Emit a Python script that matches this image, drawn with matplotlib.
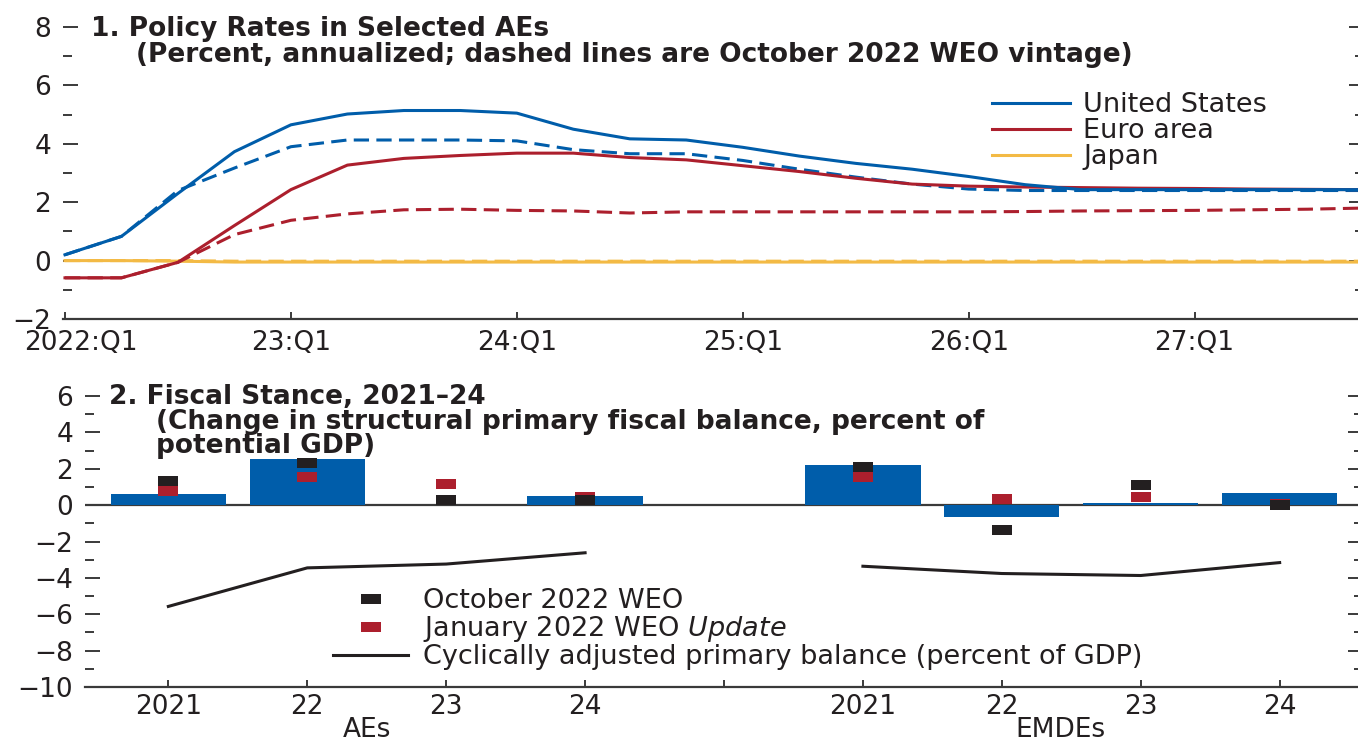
import matplotlib
matplotlib.use("Agg")
import matplotlib.pyplot as plt
import matplotlib.transforms as mtransforms
from matplotlib.lines import Line2D
from matplotlib.ticker import FixedLocator, MultipleLocator

# ---------------- data ----------------
quarter_ticks = ["2022:Q1", "23:Q1", "24:Q1", "25:Q1", "26:Q1", "27:Q1"]

us_current = [0.2, 0.83, 2.3, 3.73, 4.65, 5.02, 5.14, 5.14, 5.05, 4.5, 4.17, 4.13,
              3.88, 3.58, 3.33, 3.13, 2.88, 2.6, 2.43, 2.43, 2.43, 2.43, 2.43, 2.43]
us_oct22 = [0.2, 0.83, 2.4, 3.17, 3.9, 4.13, 4.13, 4.13, 4.1, 3.8, 3.66, 3.66,
            3.43, 3.13, 2.86, 2.62, 2.45, 2.4, 2.4, 2.4, 2.4, 2.4, 2.4, 2.4]
ea_current = [-0.59, -0.59, -0.06, 1.2, 2.43, 3.27, 3.5, 3.6, 3.68, 3.68, 3.53, 3.45,
              3.25, 3.05, 2.82, 2.62, 2.55, 2.52, 2.5, 2.48, 2.47, 2.45, 2.44, 2.43]
ea_oct22 = [-0.59, -0.59, -0.06, 0.89, 1.38, 1.6, 1.74, 1.76, 1.72, 1.7, 1.63, 1.67,
            1.67, 1.67, 1.67, 1.67, 1.67, 1.68, 1.7, 1.71, 1.72, 1.74, 1.76, 1.8]
jp_current = [0.0, 0.0, -0.02, -0.05, -0.05, -0.05, -0.05, -0.05, -0.05, -0.05, -0.05, -0.05,
              -0.05, -0.05, -0.05, -0.05, -0.05, -0.05, -0.05, -0.05, -0.05, -0.05, -0.05, -0.05]
jp_oct22 = [0.0, 0.0, 0.0, -0.02, -0.02, -0.02, -0.02, -0.02, -0.02, -0.02, -0.02, -0.02,
            -0.02, -0.02, -0.02, -0.02, -0.02, -0.02, -0.02, -0.02, -0.02, -0.02, -0.02, -0.02]

year_labels = ["2021", "22", "23", "24"]
group_labels = ["AEs", "EMDEs"]
stance_aes = [0.6, 2.53, 0.0, 0.5]
stance_emdes = [2.2, -0.64, 0.11, 0.64]
oct22_aes = [1.34, 2.29, 0.29, 0.29]
oct22_emdes = [2.07, -1.39, 1.08, 0.0]
jan22_aes = [0.75, 1.52, 1.17, 0.46]
jan22_emdes = [1.56, 0.31, 0.46, 0.04]
capb_aes = [-5.57, -3.45, -3.24, -2.62]
capb_emdes = [-3.36, -3.76, -3.87, -3.16]

# ---------------- style ----------------
BLUE = "#005DAA"
RED = "#AC1F2D"
YELLOW = "#F3BA45"
BLACK = "#231F20"
AXIS = "#3A3A3A"
FS = 19      # tick labels / group labels
FSL = 19.5   # legends
FST = 19     # bold titles

plt.rcParams["font.family"] = ["DejaVu Sans"]
plt.rcParams["text.color"] = BLACK
plt.rcParams["xtick.color"] = AXIS
plt.rcParams["ytick.color"] = AXIS
plt.rcParams["xtick.labelcolor"] = BLACK
plt.rcParams["ytick.labelcolor"] = BLACK
plt.rcParams["mathtext.fontset"] = "dejavusans"

W, H = 1358, 742
fig = plt.figure(figsize=(W / 100, H / 100), dpi=100)


def px_axes(left, top, right, bottom):
    return [left / W, 1 - bottom / H, (right - left) / W, (bottom - top) / H]


ax1 = fig.add_axes(px_axes(63, 27, 1364, 319))
ax2 = fig.add_axes(px_axes(85, 396, 1363, 687))

for ax in (ax1, ax2):
    for s in ("top", "left", "right"):
        ax.spines[s].set_visible(False)
    ax.spines["bottom"].set_linewidth(1.6)
    ax.spines["bottom"].set_color(AXIS)
    ax.tick_params(axis="y", which="major", direction="in", length=10.8, width=1.4,
                   left=True, right=True, labelsize=FS, pad=8.5)
    ax.tick_params(axis="y", which="minor", direction="in", length=6.5, width=1.4,
                   left=True, right=True)
    ax.tick_params(axis="x", which="major", direction="in", length=5, width=1.4,
                   labelsize=FS)
    ax.tick_params(axis="x", which="minor", bottom=False)
    ax.patch.set_alpha(0)

# ---------------- panel 1 ----------------
x = list(range(len(us_current)))
ax1.plot(x, jp_oct22, color=YELLOW, lw=2.2, dashes=(5, 2.4), zorder=2)
ax1.plot(x, jp_current, color=YELLOW, lw=2.2, zorder=2)
ax1.plot(x, ea_oct22, color=RED, lw=2.2, dashes=(5, 2.4), zorder=3)
ax1.plot(x, us_oct22, color=BLUE, lw=2.2, dashes=(5, 2.4), zorder=3)
ax1.plot(x, ea_current, color=RED, lw=2.2, zorder=4)
ax1.plot(x, us_current, color=BLUE, lw=2.2, zorder=5)

ax1.set_xlim(-0.035, 23)
ax1.set_ylim(-2, 8)
ax1.yaxis.set_major_locator(MultipleLocator(2))
ax1.yaxis.set_minor_locator(MultipleLocator(1))
ax1.xaxis.set_major_locator(FixedLocator(range(0, 24, 4)))
ax1.set_xticklabels(quarter_ticks)
ax1.tick_params(axis="x", pad=8)
first = ax1.get_xticklabels()[0]
first.set_transform(first.get_transform() +
                    mtransforms.ScaledTranslation(0.16, 0, fig.dpi_scale_trans))

leg1 = ax1.legend([Line2D([], [], color=BLUE, lw=2.2),
                   Line2D([], [], color=RED, lw=2.2),
                   Line2D([], [], color=YELLOW, lw=2.2)],
                  ["United States", "Euro area", "Japan"],
                  loc="center left", bbox_to_anchor=(992 / W, 1 - 131.5 / H),
                  bbox_transform=fig.transFigure, frameon=False, fontsize=FSL,
                  handlelength=2.88, handletextpad=0.48, labelspacing=0.0,
                  borderpad=0, borderaxespad=0)

fig.text(91 / W, 1 - 36.5 / H, "1. Policy Rates in Selected AEs",
         fontsize=FST, fontweight="bold", ha="left", va="baseline")
fig.text(136 / W, 1 - 62 / H,
         "(Percent, annualized; dashed lines are October 2022 WEO vintage)",
         fontsize=FST, fontweight="bold", ha="left", va="baseline")

# ---------------- panel 2 ----------------
pos_aes = [0, 1, 2, 3]
pos_emdes = [5, 6, 7, 8]
rect = [(-1, -0.5), (1, -0.5), (1, 0.5), (-1, 0.5), (-1, -0.5)]

ax2.axhline(0, color=AXIS, lw=1.6, zorder=2)
ax2.bar(pos_aes + pos_emdes, stance_aes + stance_emdes, width=0.83, color=BLUE,
        zorder=3)
ax2.plot(pos_aes + pos_emdes, jan22_aes + jan22_emdes, ls="none", marker=rect,
         ms=14.4, color=RED, mew=0, zorder=4)
ax2.plot(pos_aes + pos_emdes, oct22_aes + oct22_emdes, ls="none", marker=rect,
         ms=14.4, color=BLACK, mew=0, zorder=5)
ax2.plot(pos_aes, capb_aes, color=BLACK, lw=2.2, zorder=4)
ax2.plot(pos_emdes, capb_emdes, color=BLACK, lw=2.2, zorder=4)

ax2.set_xlim(-0.6, 8.6)
ax2.set_ylim(-10, 6)
ax2.yaxis.set_major_locator(MultipleLocator(2))
ax2.yaxis.set_minor_locator(MultipleLocator(1))
ax2.xaxis.set_major_locator(FixedLocator(range(9)))
ax2.set_xticklabels(year_labels + [""] + year_labels)
ax2.tick_params(axis="x", pad=5)

blend = mtransforms.blended_transform_factory(ax2.transData, fig.transFigure)
ax2.text(1.43, 1 - 737 / H, group_labels[0], transform=blend, ha="center",
         va="baseline", fontsize=FS)
ax2.text(6.42, 1 - 737 / H, group_labels[1], transform=blend, ha="center",
         va="baseline", fontsize=FS)

leg2 = ax2.legend([Line2D([], [], ls="none", marker=rect, ms=14.4, color=BLACK, mew=0),
                   Line2D([], [], ls="none", marker=rect, ms=14.4, color=RED, mew=0),
                   Line2D([], [], color=BLACK, lw=2.2)],
                  ["October 2022 WEO", "January 2022 WEO $\\mathit{Update}$",
                   "Cyclically adjusted primary balance (percent of GDP)"],
                  loc="center left", bbox_to_anchor=(333 / W, 1 - 629 / H),
                  bbox_transform=fig.transFigure, frameon=False, fontsize=FSL,
                  handlelength=2.77, handletextpad=0.55, labelspacing=0.0,
                  borderpad=0, borderaxespad=0)

fig.text(109 / W, 1 - 404.5 / H, "2. Fiscal Stance, 2021–24",
         fontsize=FST, fontweight="bold", ha="left", va="baseline")
fig.text(156 / W, 1 - 429 / H,
         "(Change in structural primary fiscal balance, percent of",
         fontsize=FST, fontweight="bold", ha="left", va="baseline")
fig.text(156 / W, 1 - 453 / H, "potential GDP)",
         fontsize=FST, fontweight="bold", ha="left", va="baseline")

fig.savefig("out.png", dpi=100)
